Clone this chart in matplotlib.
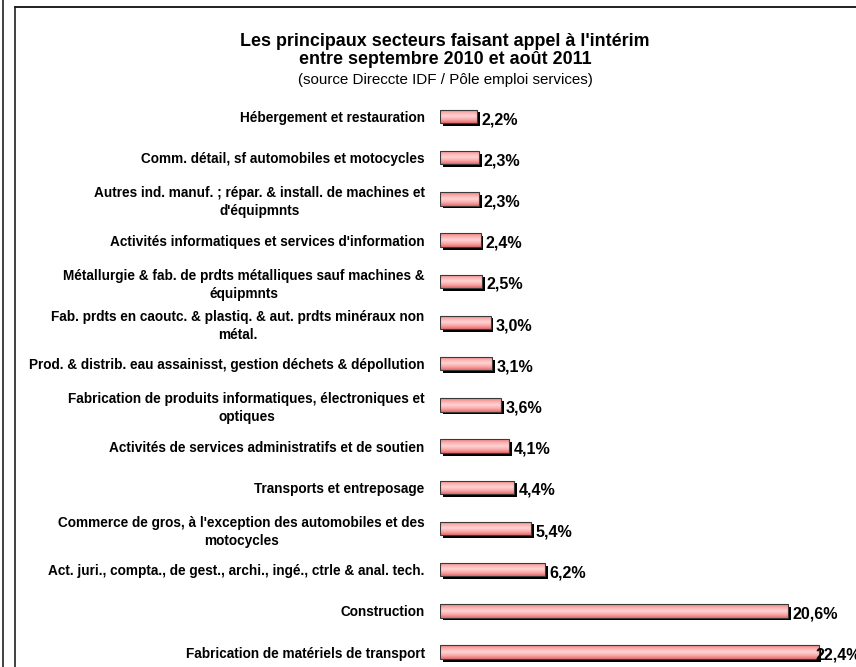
import numpy as np
import matplotlib
matplotlib.use('Agg')
import matplotlib.pyplot as plt
from matplotlib.colors import LinearSegmentedColormap
from matplotlib.lines import Line2D
import matplotlib.patheffects as pe

plt.rcParams['font.family'] = ['Liberation Sans', 'DejaVu Sans']

categories = [
    "Hébergement et restauration",
    "Comm. détail, sf automobiles et motocycles",
    "Autres ind. manuf. ; répar. & install. de machines et\nd'équipmnts",
    "Activités informatiques et services d'information",
    "Métallurgie & fab. de prdts métalliques sauf machines &\néquipmnts",
    "Fab. prdts en caoutc. & plastiq. & aut. prdts minéraux non\nmétal.",
    "Prod. & distrib. eau assainisst, gestion déchets & dépollution",
    "Fabrication de produits informatiques, électroniques et\noptiques",
    "Activités de services administratifs et de soutien",
    "Transports et entreposage",
    "Commerce de gros, à l'exception des automobiles et des\nmotocycles",
    "Act. juri., compta., de gest., archi., ingé., ctrle & anal. tech.",
    "Construction",
    "Fabrication de matériels de transport",
]
values = [2.2, 2.3, 2.3, 2.4, 2.5, 3.0, 3.1, 3.6, 4.1, 4.4, 5.4, 6.2, 20.6, 22.4]

title_lines = ["Les principaux secteurs faisant appel à l'intérim",
               "entre septembre 2010 et août 2011"]
subtitle = "(source Direccte IDF / Pôle emploi services)"

W, H = 856, 667
fig = plt.figure(figsize=(W / 100, H / 100), dpi=100)

px_per_unit = 16.9
ax_left = 440
ax_width = W - ax_left
row_px = 41.2
ax_top = 116.5 - row_px / 2
ax_h = row_px * len(values)
ax = fig.add_axes([ax_left / W, (H - ax_top - ax_h) / H, ax_width / W, ax_h / H])

y = np.arange(len(values))
bar_h = 0.33

# base bars with shadow
base = ax.barh(y, values, height=bar_h, color='#f07a7a', edgecolor='none', zorder=2)
for b in base:
    b.set_path_effects([pe.SimplePatchShadow(offset=(2.0, -2.0), shadow_rgbFace='black', alpha=1.0),
                        pe.Normal()])

# gradient fill
cmap = LinearSegmentedColormap.from_list('pinkgrad', ['#f08080', '#fab0b0', '#ffd4d4', '#f9a8a8', '#ea6c6c'])
grad = np.linspace(0, 1, 64).reshape(-1, 1)
for b in base:
    x0, y0, w, h = b.get_x(), b.get_y(), b.get_width(), b.get_height()
    im = ax.imshow(grad, extent=[x0, x0 + w, y0 + h, y0], aspect='auto', cmap=cmap,
                   interpolation='bilinear', zorder=3)
    im.set_clip_path(b)

# outlines
ax.barh(y, values, height=bar_h, color='none', edgecolor='#3a3a3a', linewidth=0.8, zorder=4)

ax.set_xlim(0, ax_width / px_per_unit)
ax.set_ylim(len(values) - 0.5, -0.5)

vmax = max(values)
for i, v in enumerate(values):
    lab = f"{v:.1f}".replace('.', ',') + '%'
    off = -2.2 if v == vmax else 3.2
    ax.annotate(lab, xy=(v, i), xytext=(off, -2.2), textcoords='offset points',
                va='center', ha='left', fontsize=11.6, fontweight='bold', zorder=5,
                annotation_clip=False)

ax.set_yticks(y)
ax.set_yticklabels(categories, fontsize=9.85, fontweight='bold')
for t in ax.get_yticklabels():
    t.set_multialignment('center')
    t.set_linespacing(1.35)
ax.tick_params(axis='y', length=0, pad=11)
ax.tick_params(axis='x', bottom=False, labelbottom=False)
for s in ax.spines.values():
    s.set_visible(False)
ax.set_facecolor('none')

# frame lines
fig.add_artist(Line2D([3.5 / W, 3.5 / W], [0, 1], color='#202020', lw=1.2))
fig.add_artist(Line2D([15.5 / W, 15.5 / W], [0, 1 - 6.5 / H], color='#202020', lw=1.2))
fig.add_artist(Line2D([15.5 / W, 1], [1 - 6.5 / H, 1 - 6.5 / H], color='#202020', lw=1.4))

cx = 445 / W
fig.text(cx, 1 - 41 / H, title_lines[0], ha='center', va='center', fontsize=12.9, fontweight='bold')
fig.text(cx, 1 - 60 / H, title_lines[1], ha='center', va='center', fontsize=12.9, fontweight='bold')
fig.text(cx, 1 - 80 / H, subtitle, ha='center', va='center', fontsize=10.9)

fig.savefig('out.png', dpi=100)
